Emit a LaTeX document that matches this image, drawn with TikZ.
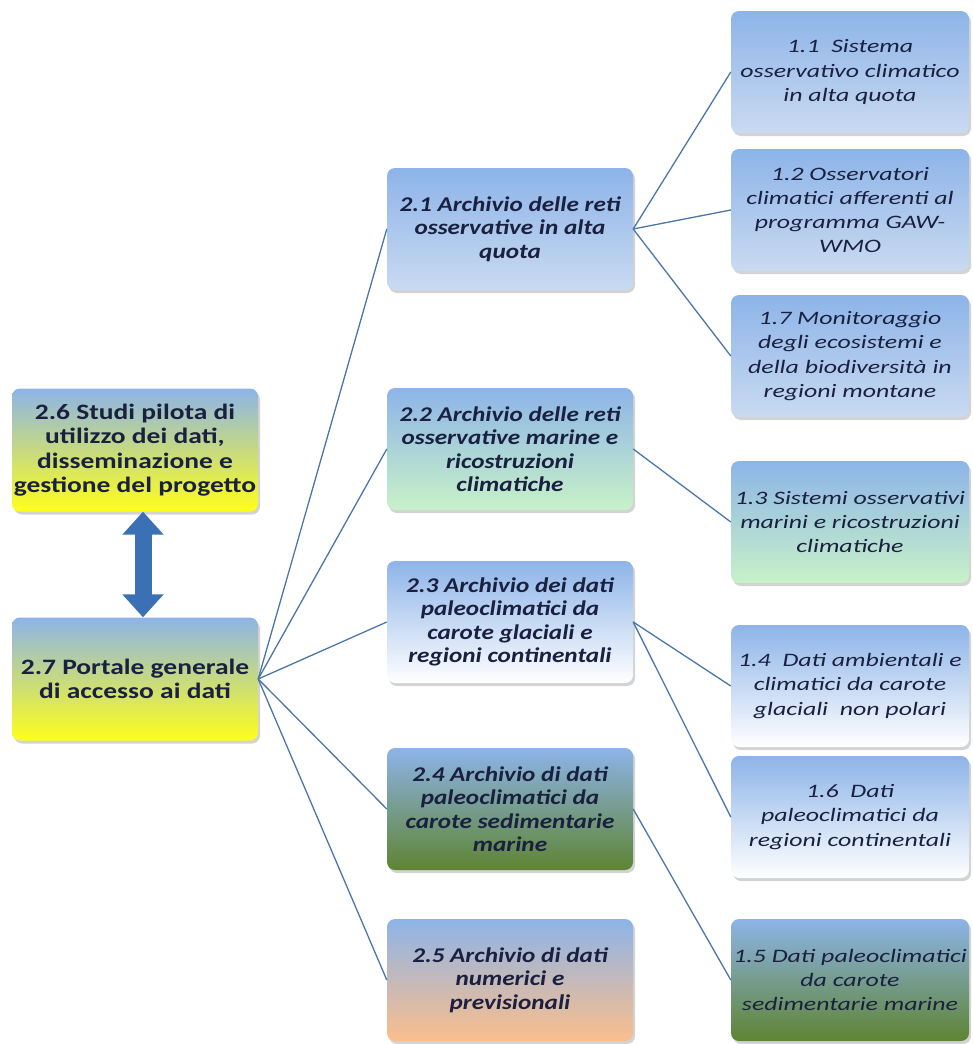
\documentclass[tikz,border=0pt]{standalone}
\usepackage{fontspec}
\setmainfont{Carlito}
\newfontfamily\wpfont{Carlito}[FakeStretch=1.25]
\newfontfamily\archfont{Carlito}[FakeStretch=1.2]
\newfontfamily\taskfont{Carlito}[FakeStretch=1.36]
\usetikzlibrary{arrows.meta,shadows}
\lineskiplimit=-20pt

\definecolor{boxblue}{HTML}{8DB4E8}
\definecolor{paleblue}{HTML}{C9DAF1}
\definecolor{boxyellow}{HTML}{FFFF1A}
\definecolor{boxgreen}{HTML}{C8F2C8}
\definecolor{boxolive}{HTML}{5E8433}
\definecolor{boxpeach}{HTML}{FBBE8C}
\definecolor{linkblue}{HTML}{4A76A8}
\definecolor{arrowblue}{HTML}{3C70B4}
\definecolor{inkblue}{HTML}{1A2040}

\tikzset{
  box/.style={rounded corners=8pt, inner sep=1pt, align=center, text=inkblue,
    drop shadow={opacity=0.35, shadow xshift=2pt, shadow yshift=-3pt}},
  wp/.style={box, minimum width=246pt, minimum height=123pt,
    font=\wpfont\fontsize{22}{24.5}\selectfont\bfseries},
  arch/.style={box, minimum width=246pt, minimum height=122pt,
    font=\archfont\fontsize{21}{23.5}\selectfont\bfseries\itshape},
  task/.style={box, minimum width=238pt, minimum height=122pt,
    font=\taskfont\fontsize{19}{24.3}\selectfont\itshape},
  blueall/.style={top color=boxblue, bottom color=paleblue},
  toyellow/.style={top color=boxblue, bottom color=boxyellow},
  togreen/.style={top color=boxblue, bottom color=boxgreen},
  towhite/.style={top color=boxblue, bottom color=white},
  toolive/.style={top color=boxblue, bottom color=boxolive},
  topeach/.style={top color=boxblue, bottom color=boxpeach},
  link/.style={draw=linkblue, line width=1.3pt}
}

\begin{document}
\begin{tikzpicture}[x=1pt, y=-1pt]
\useasboundingbox (0,0) rectangle (972,1044);

% left column
\node[wp, toyellow] (wp26) at (135,450) {2.6 Studi pilota di\\utilizzo dei dati,\\disseminazione e\\gestione del progetto};
\node[wp, toyellow] (wp27) at (135,679) {2.7 Portale generale\\di accesso ai dati};

% middle column
\node[arch, blueall] (a21) at (510,229) {2.1 Archivio delle reti\\osservative in alta\\quota};
\node[arch, togreen] (a22) at (510,449) {2.2 Archivio delle reti\\osservative marine e\\ricostruzioni\\climatiche};
\node[arch, towhite] (a23) at (510,622) {2.3 Archivio dei dati\\paleoclimatici da\\carote glaciali e\\regioni continentali};
\node[arch, toolive] (a24) at (510,809) {2.4 Archivio di dati\\paleoclimatici da\\carote sedimentarie\\marine};
\node[arch, topeach] (a25) at (510,980) {2.5 Archivio di dati\\numerici e\\previsionali};

% right column
\node[task, blueall] (t11) at (850,72) {1.1\ \ Sistema\\osservativo climatico\\in alta quota};
\node[task, blueall] (t12) at (850,210) {1.2 Osservatori\\climatici afferenti al\\programma GAW-\\WMO};
\node[task, blueall] (t17) at (850,356) {1.7 Monitoraggio\\degli ecosistemi e\\della biodiversità in\\regioni montane};
\node[task, togreen] (t13) at (850,522) {1.3 Sistemi osservativi\\marini e ricostruzioni\\climatiche};
\node[task, towhite] (t14) at (850,686) {1.4\ \ Dati ambientali e\\climatici da carote\\glaciali\ \ non polari};
\node[task, towhite] (t16) at (850,817) {1.6\ \ Dati\\paleoclimatici da\\regioni continentali};
\node[task, toolive] (t15) at (850,980) {1.5 Dati paleoclimatici\\da carote\\sedimentarie marine};

% connectors
\foreach \a in {a21,a22,a23,a24,a25}
  \draw[link] (wp27.east) -- (\a.west);
\foreach \t in {t11,t12,t17}
  \draw[link] (a21.east) -- (\t.west);
\draw[link] (a22.east) -- (t13.west);
\draw[link] (a23.east) -- (t14.west);
\draw[link] (a23.east) -- (t16.west);
\draw[link] (a24.east) -- (t15.west);

% double arrow between 2.6 and 2.7
\draw[arrowblue, line width=17pt,
  {Triangle[width=40pt,length=23pt]}-{Triangle[width=40pt,length=23pt]}]
  ([xshift=8pt]wp26.south) -- ([xshift=8pt]wp27.north);
\end{tikzpicture}
\end{document}
